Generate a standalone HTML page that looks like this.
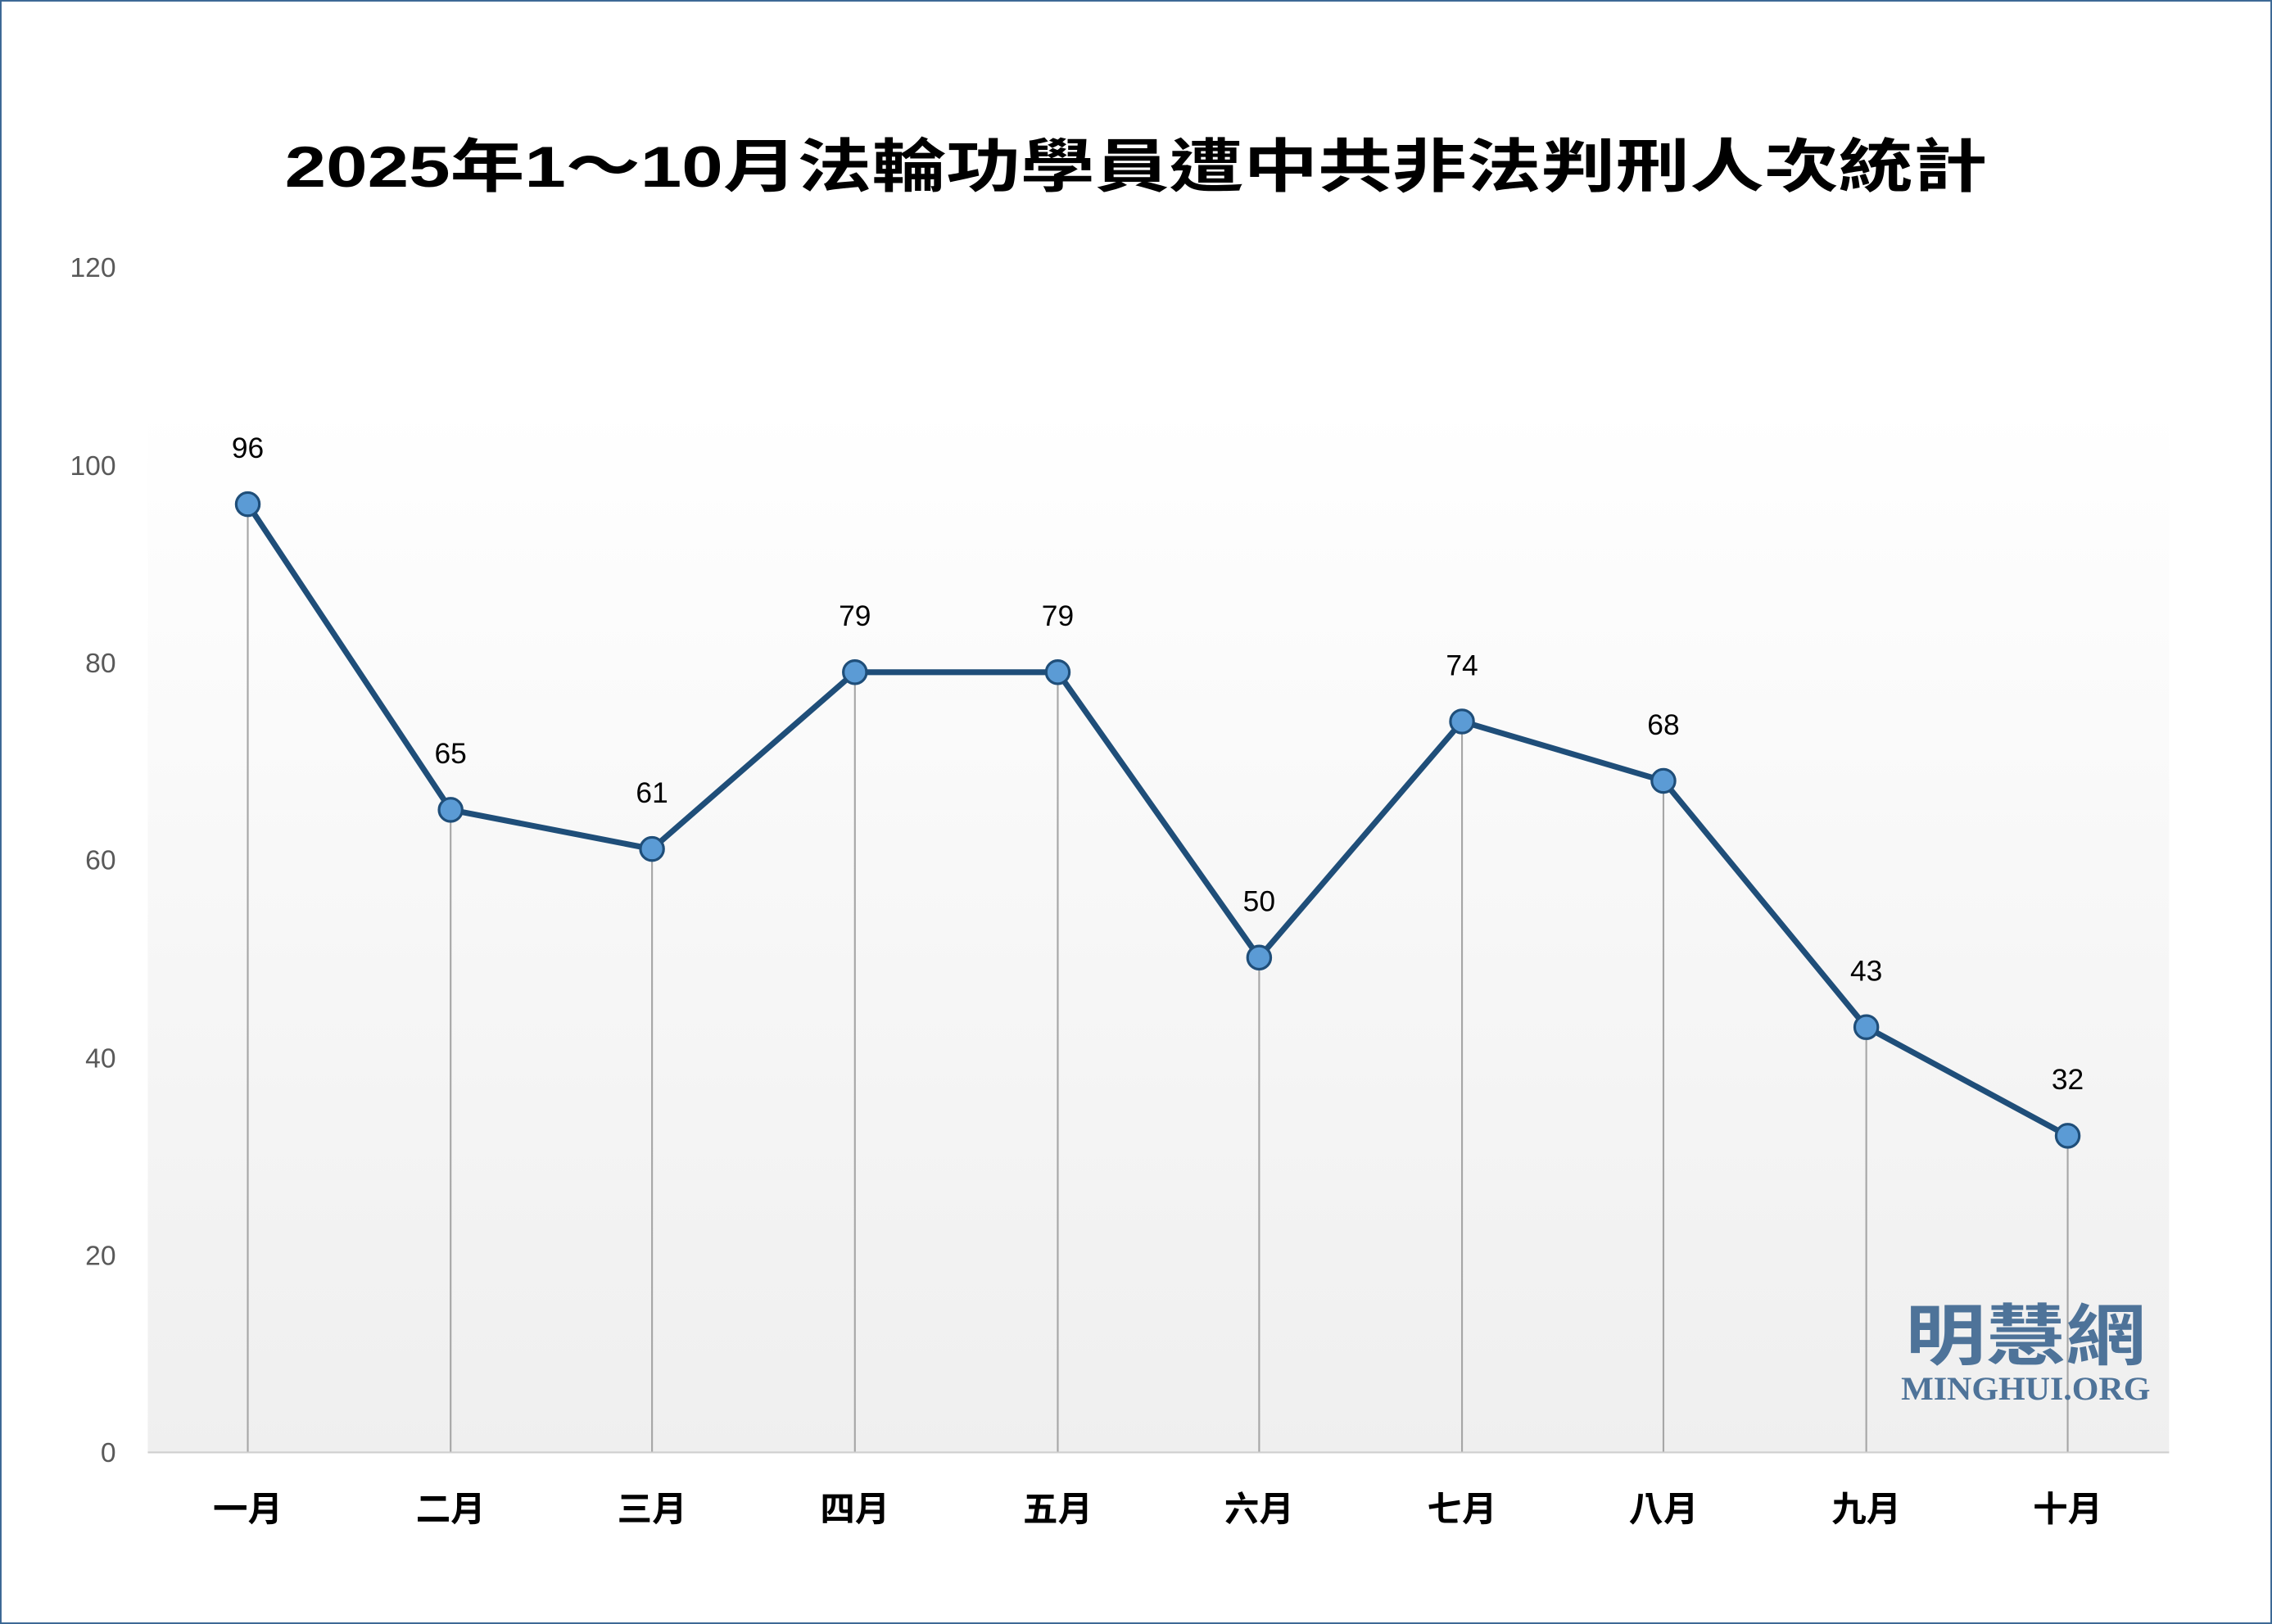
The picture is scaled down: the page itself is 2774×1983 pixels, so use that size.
<!DOCTYPE html>
<html><head><meta charset="utf-8"><style>
html,body{margin:0;padding:0;background:#fff;}
svg{display:block;}
</style></head><body>
<svg width="2774" height="1983" viewBox="0 0 1568 1121" preserveAspectRatio="none" xmlns="http://www.w3.org/2000/svg">
<defs>
<linearGradient id="bg" x1="0" y1="0" x2="0" y2="1">
<stop offset="0" stop-color="#ffffff"/>
<stop offset="0.12" stop-color="#fdfdfd"/>
<stop offset="1" stop-color="#efefef"/>
</linearGradient>
</defs>
<rect x="0.5" y="0.5" width="1567" height="1120" fill="#fff" stroke="#3a6794" stroke-width="1.2"/>
<rect x="102" y="280" width="1395" height="722" fill="url(#bg)"/>
<text x="784" y="129" text-anchor="middle" font-family="'Liberation Sans','Noto Sans CJK TC',sans-serif" font-weight="bold" font-size="40" textLength="1175" lengthAdjust="spacingAndGlyphs" fill="#000">2025年1～10月法輪功學員遭中共非法判刑人次統計</text>
<g font-family="'Liberation Sans','DejaVu Sans',sans-serif" font-size="19" fill="#595959" text-anchor="end">
<text x="80" y="191">120</text>
<text x="80" y="328">100</text>
<text x="80" y="464">80</text>
<text x="80" y="600">60</text>
<text x="80" y="737">40</text>
<text x="80" y="873">20</text>
<text x="80" y="1009">0</text>
</g>
<line x1="102" y1="1002.5" x2="1497" y2="1002.5" stroke="#cfcfcf" stroke-width="1.2"/>
<g stroke="#a6a6a6" stroke-width="1.2">
<line x1="171" y1="348" x2="171" y2="1002"/>
<line x1="311" y1="559" x2="311" y2="1002"/>
<line x1="450" y1="586" x2="450" y2="1002"/>
<line x1="590" y1="464" x2="590" y2="1002"/>
<line x1="730" y1="464" x2="730" y2="1002"/>
<line x1="869" y1="661" x2="869" y2="1002"/>
<line x1="1009" y1="498" x2="1009" y2="1002"/>
<line x1="1148" y1="539" x2="1148" y2="1002"/>
<line x1="1288" y1="709" x2="1288" y2="1002"/>
<line x1="1427" y1="784" x2="1427" y2="1002"/>
</g>
<g fill="#4e7399">
<text x="1398" y="938" text-anchor="middle" font-family="'Noto Sans CJK TC','Noto Serif CJK SC',sans-serif" font-weight="bold" font-size="46" textLength="166" lengthAdjust="spacingAndGlyphs">明慧網</text>
<text x="1398" y="966" text-anchor="middle" font-family="'Liberation Serif',serif" font-weight="bold" font-size="23" textLength="172" lengthAdjust="spacingAndGlyphs">MINGHUI.ORG</text>
</g>
<polyline points="171,348 311,559 450,586 590,464 730,464 869,661 1009,498 1148,539 1288,709 1427,784" fill="none" stroke="#1f4e79" stroke-width="4" stroke-linejoin="round"/>
<g fill="#5b9bd5" stroke="#1f4e79" stroke-width="1.8">
<circle cx="171" cy="348" r="8"/><circle cx="311" cy="559" r="8"/><circle cx="450" cy="586" r="8"/>
<circle cx="590" cy="464" r="8"/><circle cx="730" cy="464" r="8"/><circle cx="869" cy="661" r="8"/>
<circle cx="1009" cy="498" r="8"/><circle cx="1148" cy="539" r="8"/><circle cx="1288" cy="709" r="8"/>
<circle cx="1427" cy="784" r="8"/>
</g>
<g font-family="'Liberation Sans','DejaVu Sans',sans-serif" font-size="20" fill="#000" text-anchor="middle">
<text x="171" y="316">96</text><text x="311" y="527">65</text><text x="450" y="554">61</text>
<text x="590" y="432">79</text><text x="730" y="432">79</text><text x="869" y="629">50</text>
<text x="1009" y="466">74</text><text x="1148" y="507">68</text><text x="1288" y="677">43</text>
<text x="1427" y="752">32</text>
</g>
<g font-family="'Noto Sans CJK TC','Noto Sans CJK SC',sans-serif" font-weight="bold" font-size="24" fill="#000" text-anchor="middle">
<text x="171" y="1050">一月</text><text x="311" y="1050">二月</text><text x="450" y="1050">三月</text>
<text x="590" y="1050">四月</text><text x="730" y="1050">五月</text><text x="869" y="1050">六月</text>
<text x="1009" y="1050">七月</text><text x="1148" y="1050">八月</text><text x="1288" y="1050">九月</text>
<text x="1427" y="1050">十月</text>
</g>
</svg>
</body></html>
